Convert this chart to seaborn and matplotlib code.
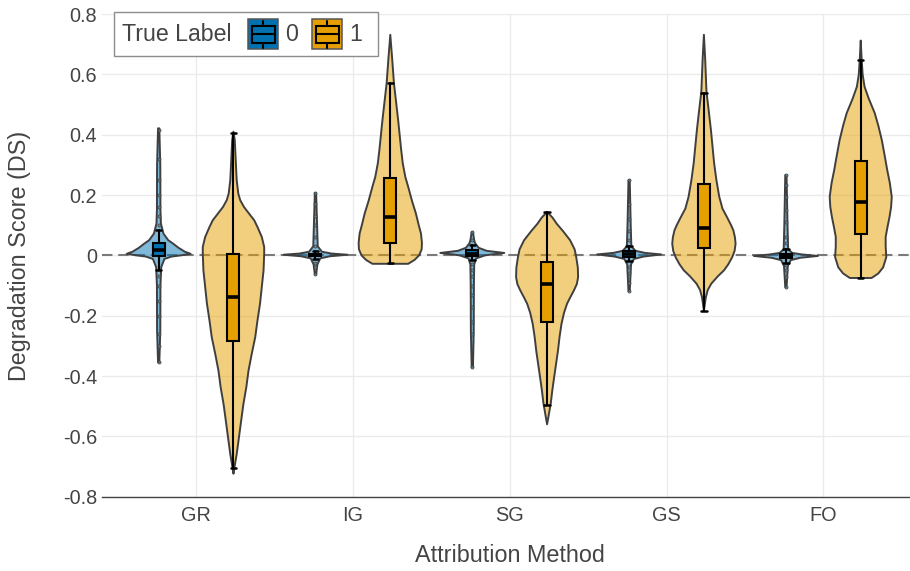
import numpy as np
import pandas as pd
import matplotlib
matplotlib.use("Agg")
import matplotlib.pyplot as plt
import seaborn as sns
from matplotlib.colors import to_rgba
from matplotlib.patches import Rectangle

# ---------------------------------------------------------------- data
methods = ["GR", "IG", "SG", "GS", "FO"]
true_labels = [0, 1]
label_colors = ["#0072B2", "#E69F00"]
y_ticks = [-0.8, -0.6, -0.4, -0.2, 0.0, 0.2, 0.4, 0.6, 0.8]

# Violin outlines: score level and relative density (1.0 = widest point)
GR_0_y = [0.421, 0.30, 0.15, 0.105, 0.072, 0.05, 0.039, 0.025, 0.012, 0.005, 0.0, -0.004, -0.012, -0.039, -0.10, -0.25, -0.355]
GR_0_d = [0.02, 0.05, 0.055, 0.07, 0.15, 0.30, 0.45, 0.62, 0.82, 1.0, 0.70, 0.40, 0.18, 0.08, 0.055, 0.05, 0.02]
GR_1_y = [0.41, 0.382, 0.316, 0.249, 0.205, 0.183, 0.16, 0.138, 0.116, 0.094, 0.061, 0.028, 0.006, -0.05, -0.105, -0.16, -0.216, -0.271, -0.327, -0.382, -0.438, -0.493, -0.548, -0.604, -0.659, -0.703, -0.724]
GR_1_d = [0.0, 0.04, 0.07, 0.10, 0.15, 0.21, 0.33, 0.49, 0.65, 0.75, 0.885, 0.96, 0.96, 0.94, 0.885, 0.83, 0.75, 0.68, 0.57, 0.47, 0.40, 0.31, 0.24, 0.17, 0.10, 0.03, 0.0]

IG_0_y = [0.207, 0.10, 0.03, 0.012, 0.006, 0.002, -0.003, -0.01, -0.03, -0.063]
IG_0_d = [0.02, 0.05, 0.07, 0.20, 0.50, 1.0, 0.45, 0.15, 0.06, 0.02]
IG_1_y = [0.731, 0.65, 0.57, 0.449, 0.35, 0.305, 0.26, 0.227, 0.18, 0.139, 0.10, 0.072, 0.04, 0.02, 0.0, -0.015, -0.028]
IG_1_d = [0.0, 0.06, 0.115, 0.245, 0.34, 0.39, 0.47, 0.56, 0.68, 0.80, 0.89, 0.96, 0.99, 0.98, 0.90, 0.76, 0.56]

SG_0_y = [0.077, 0.05, 0.04, 0.025, 0.015, 0.008, 0.0, -0.01, -0.03, -0.10, -0.25, -0.371]
SG_0_d = [0.02, 0.06, 0.09, 0.20, 0.45, 1.0, 0.40, 0.12, 0.06, 0.05, 0.045, 0.02]
SG_1_y = [0.144, 0.125, 0.105, 0.08, 0.05, 0.02, -0.005, -0.04, -0.072, -0.095, -0.116, -0.14, -0.16, -0.19, -0.227, -0.27, -0.316, -0.36, -0.404, -0.45, -0.49, -0.53, -0.56]
SG_1_d = [0.0, 0.17, 0.30, 0.50, 0.72, 0.86, 0.91, 0.96, 0.97, 0.93, 0.84, 0.72, 0.625, 0.53, 0.45, 0.39, 0.34, 0.28, 0.22, 0.16, 0.115, 0.05, 0.0]

GS_0_y = [0.249, 0.10, 0.03, 0.015, 0.008, 0.003, -0.004, -0.012, -0.03, -0.119]
GS_0_d = [0.02, 0.05, 0.07, 0.20, 0.50, 1.0, 0.45, 0.15, 0.06, 0.02]
GS_1_y = [0.731, 0.65, 0.543, 0.48, 0.415, 0.36, 0.305, 0.25, 0.194, 0.155, 0.127, 0.10, 0.083, 0.06, 0.039, 0.015, -0.006, -0.03, -0.05, -0.07, -0.094, -0.115, -0.139, -0.16, -0.183]
GS_1_d = [0.0, 0.04, 0.08, 0.15, 0.22, 0.27, 0.32, 0.39, 0.48, 0.58, 0.72, 0.85, 0.92, 0.97, 0.99, 0.96, 0.885, 0.76, 0.625, 0.43, 0.23, 0.12, 0.06, 0.03, 0.0]

FO_0_y = [0.266, 0.10, 0.02, 0.008, 0.003, -0.002, -0.008, -0.016, -0.035, -0.106]
FO_0_d = [0.02, 0.05, 0.07, 0.20, 0.50, 1.0, 0.45, 0.15, 0.06, 0.02]
FO_1_y = [0.712, 0.648, 0.60, 0.559, 0.52, 0.471, 0.43, 0.382, 0.33, 0.282, 0.24, 0.194, 0.16, 0.127, 0.09, 0.061, 0.03, -0.006, -0.04, -0.06, -0.075]
FO_1_d = [0.0, 0.03, 0.06, 0.12, 0.25, 0.44, 0.55, 0.66, 0.75, 0.83, 0.91, 0.97, 0.95, 0.90, 0.83, 0.78, 0.78, 0.80, 0.70, 0.55, 0.34]

# Box statistics per method (GR, IG, SG, GS, FO)
lo_0 = [-0.05, -0.012, -0.015, -0.02, -0.025]
q1_0 = [-0.002, -0.003, -0.003, -0.004, -0.010]
med_0 = [0.018, 0.001, 0.006, 0.004, -0.003]
q3_0 = [0.040, 0.006, 0.018, 0.014, 0.006]
hi_0 = [0.083, 0.016, 0.035, 0.030, 0.020]

lo_1 = [-0.705, -0.026, -0.496, -0.183, -0.075]
q1_1 = [-0.285, 0.041, -0.222, 0.026, 0.070]
med_1 = [-0.138, 0.127, -0.096, 0.089, 0.177]
q3_1 = [0.005, 0.255, -0.022, 0.238, 0.312]
hi_1 = [0.405, 0.570, 0.144, 0.539, 0.648]

# Outlying scores for the label-0 groups
GR_0_out = [0.10, 0.13, 0.16, 0.20, 0.25, 0.32, 0.415, -0.07, -0.10, -0.15, -0.20, -0.26, -0.30, -0.355]
IG_0_out = [0.03, 0.06, 0.10, 0.13, 0.17, 0.207, -0.025, -0.04, -0.063]
SG_0_out = [0.05, 0.077, -0.03, -0.05, -0.07, -0.10, -0.13, -0.17, -0.22, -0.26, -0.371]
GS_0_out = [0.05, 0.08, 0.12, 0.17, 0.249, -0.04, -0.06, -0.09, -0.119]
FO_0_out = [0.04, 0.061, 0.111, 0.15, 0.194, 0.233, 0.266, -0.033, -0.05, -0.073, -0.106]

violin_profiles = {
    ("GR", 0): (GR_0_y, GR_0_d), ("GR", 1): (GR_1_y, GR_1_d),
    ("IG", 0): (IG_0_y, IG_0_d), ("IG", 1): (IG_1_y, IG_1_d),
    ("SG", 0): (SG_0_y, SG_0_d), ("SG", 1): (SG_1_y, SG_1_d),
    ("GS", 0): (GS_0_y, GS_0_d), ("GS", 1): (GS_1_y, GS_1_d),
    ("FO", 0): (FO_0_y, FO_0_d), ("FO", 1): (FO_1_y, FO_1_d),
}
box_stats = {0: (lo_0, q1_0, med_0, q3_0, hi_0), 1: (lo_1, q1_1, med_1, q3_1, hi_1)}
outliers_0 = [GR_0_out, IG_0_out, SG_0_out, GS_0_out, FO_0_out]

# ---------------------------------------------------------------- style
W, H = 910, 571
DPI = 100
DODGE = 0.2385          # horizontal offset of each label within a method
VIOLIN_HALF = 0.204     # half width of a violin at its widest point
BOX_W = 0.0765
CAP_W = 0.034
TEXT = "#444444"
EDGE = "#3f3f3f"

sns.set_theme(style="whitegrid")
plt.rcParams["font.family"] = ["Liberation Sans", "DejaVu Sans"]
plt.rcParams["text.color"] = TEXT
plt.rcParams["axes.labelcolor"] = TEXT
plt.rcParams["xtick.color"] = TEXT
plt.rcParams["ytick.color"] = TEXT

fig = plt.figure(figsize=(W / DPI, H / DPI), dpi=DPI)
fig.patch.set_facecolor("white")

# plot panel in pixel terms (right edge runs slightly past the canvas)
px_left, px_right, px_top, px_bottom = 102, 917.4, 14, 496.7
ax = fig.add_axes([px_left / W, 1 - px_bottom / H,
                   (px_right - px_left) / W, (px_bottom - px_top) / H])
ax.set_facecolor("white")
ax.set_xlim(-0.6, len(methods) - 0.4)
ax.set_ylim(-0.8, 0.8)

ax.set_xticks(range(len(methods)))
ax.set_xticklabels(methods)
ax.set_yticks(y_ticks)
ax.set_yticklabels([f"{v:g}" for v in y_ticks])
ax.tick_params(axis="y", length=0, pad=3.5, labelsize=14.3)
ax.tick_params(axis="x", length=3.8, width=1.0, pad=3.0, labelsize=14.3, color=TEXT)
ax.grid(True, color="#ebebeb", linewidth=1.0)
ax.set_axisbelow(True)
for side in ["left", "right", "top"]:
    ax.spines[side].set_visible(False)
ax.spines["bottom"].set_color(TEXT)
ax.spines["bottom"].set_linewidth(1.0)
ax.spines["bottom"].set_zorder(5)

# dashed reference line at zero, beneath the translucent violins
ax.axhline(0, color="#7a7a7a", linewidth=1.5, linestyle=(0, (5.0, 2.8)), zorder=1.5)

# violins
for i, m in enumerate(methods):
    for lab in true_labels:
        ys, ds = violin_profiles[(m, lab)]
        ys = np.asarray(ys)
        half = np.asarray(ds) * VIOLIN_HALF
        xc = i + (DODGE if lab == 1 else -DODGE)
        xs = np.concatenate([xc - half, (xc + half)[::-1]])
        yy = np.concatenate([ys, ys[::-1]])
        ax.fill(xs, yy, facecolor=to_rgba(label_colors[lab], 0.5),
                edgecolor=EDGE, linewidth=1.4, joinstyle="round", zorder=2)

# outlying points of the label-0 groups
out_rows = []
for i, vals in enumerate(outliers_0):
    for v in vals:
        out_rows.append({"pos": i - DODGE, "score": v})
out_df = pd.DataFrame(out_rows)
sns.scatterplot(data=out_df, x="pos", y="score", ax=ax, s=5,
                color=to_rgba("#5a7f99", 0.8), edgecolor=EDGE,
                linewidth=0.5, zorder=2.5, legend=False)

# boxes
for lab in true_labels:
    lo, q1, med, q3, hi = box_stats[lab]
    stats = [dict(whislo=lo[i], q1=q1[i], med=med[i], q3=q3[i], whishi=hi[i], fliers=[])
             for i in range(len(methods))]
    pos = [i + (DODGE if lab == 1 else -DODGE) for i in range(len(methods))]
    ax.bxp(stats, positions=pos, widths=BOX_W, capwidths=CAP_W, patch_artist=True,
           showfliers=False, manage_ticks=False,
           boxprops=dict(facecolor=label_colors[lab], edgecolor="black", linewidth=1.5),
           medianprops=dict(color="black", linewidth=2.6, solid_capstyle="butt"),
           whiskerprops=dict(color="black", linewidth=1.5),
           capprops=dict(color="black", linewidth=1.8),
           zorder=3)

ax.set_xlabel("")
ax.set_ylabel("")

# axis titles
fig.text(509.5 / W, 1 - 555 / H, "Attribution Method", ha="center", va="center",
         fontsize=16.8, color=TEXT)
fig.text(20 / W, 1 - 255.4 / H, "Degradation Score (DS)", ha="center", va="center",
         rotation=90, fontsize=16.8, color=TEXT)

# legend with inline title and box-style keys
lx0, ly0, lx1, ly1 = 112, 10, 380, 58
lg = fig.add_axes([lx0 / W, 1 - ly1 / H, (lx1 - lx0) / W, (ly1 - ly0) / H], zorder=10)
lg.set_xlim(lx0, lx1)
lg.set_ylim(ly1, ly0)
lg.axis("off")
lg.add_patch(Rectangle((114, 12.3), 264, 44, facecolor="white",
                       edgecolor="#8c8c8c", linewidth=1.0, clip_on=False))
lg.text(121.5, 34.5, "True Label", ha="left", va="center", fontsize=16.7, color=TEXT)
for lab, kx, tx in [(0, 248.3, 285), (1, 312.3, 349)]:
    lg.add_patch(Rectangle((kx, 19.3), 30, 29.7, facecolor=label_colors[lab],
                           edgecolor="#555555", linewidth=1.1))
    cx = kx + 15
    lg.add_patch(Rectangle((kx + 3.5, 26), 23, 16.7, facecolor="none",
                           edgecolor="black", linewidth=1.5))
    lg.plot([kx + 3.5, kx + 26.5], [34.3, 34.3], color="black", linewidth=1.5)
    lg.plot([cx, cx], [20.7, 26], color="black", linewidth=1.5)
    lg.plot([cx, cx], [42.7, 47.7], color="black", linewidth=1.5)
    lg.text(tx, 34.5, str(lab), ha="left", va="center", fontsize=16.7, color=TEXT)

fig.savefig("out.png", dpi=DPI, facecolor="white")
